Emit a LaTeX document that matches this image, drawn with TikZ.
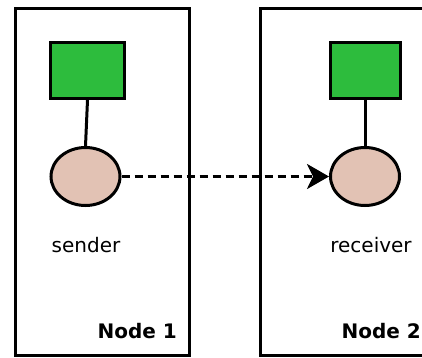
\documentclass[tikz,border=0pt]{standalone}
\usepackage{fontspec}
\setmainfont{DejaVu Sans}
\usetikzlibrary{arrows.meta,shapes.geometric}
\definecolor{procgreen}{HTML}{2DBC3D}
\definecolor{endpoint}{HTML}{E2C2B4}
\tikzset{
  hostbox/.style={draw=black, line width=3pt, rectangle, inner sep=0pt},
  process/.style={draw=black, fill=procgreen, line width=3pt, rectangle, inner sep=0pt},
  socket/.style={draw=black, fill=endpoint, line width=3pt, ellipse, inner sep=0pt},
  link/.style={line width=3pt},
  label/.style={font=\fontsize{20}{24}\selectfont, inner sep=0pt},
  hostlabel/.style={font=\fontsize{20}{24}\selectfont\bfseries, inner sep=0pt, anchor=base east},
  message/.style={line width=3pt, dash pattern=on 8pt off 5pt,
    -{Stealth[length=22pt, width=25pt, inset=6pt]}}
}
\begin{document}
\begin{tikzpicture}[x=1pt, y=-1pt]
  \useasboundingbox (0,0) rectangle (422,357);
  \clip (0,0) rectangle (422,357);
  % hosts
  \node[hostbox, minimum width=174pt, minimum height=347pt] (host1) at (102.5,181.5) {};
  \node[hostbox, minimum width=175pt, minimum height=347pt] (host2) at (348,181.5) {};
  % processes
  \node[process, minimum width=74pt, minimum height=56pt] (proc1) at (87.5,70.5) {};
  \node[process, minimum width=70pt, minimum height=56pt] (proc2) at (365,70.5) {};
  % endpoints
  \node[socket, minimum width=69pt, minimum height=58pt] (snd) at (85.5,176.5) {};
  \node[socket, minimum width=69pt, minimum height=58pt] (rcv) at (365,176.5) {};
  % connections
  \draw[link] (proc1.south) -- (snd.north);
  \draw[link] (proc2.south) -- (rcv.north);
  \draw[message] (snd.east) -- (rcv.west);
  % labels
  \node[label, anchor=base] (sndlabel) at (86,252) {sender};
  \node[label, anchor=base] (rcvlabel) at (371,252) {receiver};
  \node[hostlabel] (host1label) at (177,338) {Node 1};
  \node[hostlabel] (host2label) at (421,338) {Node 2};
\end{tikzpicture}
\end{document}
